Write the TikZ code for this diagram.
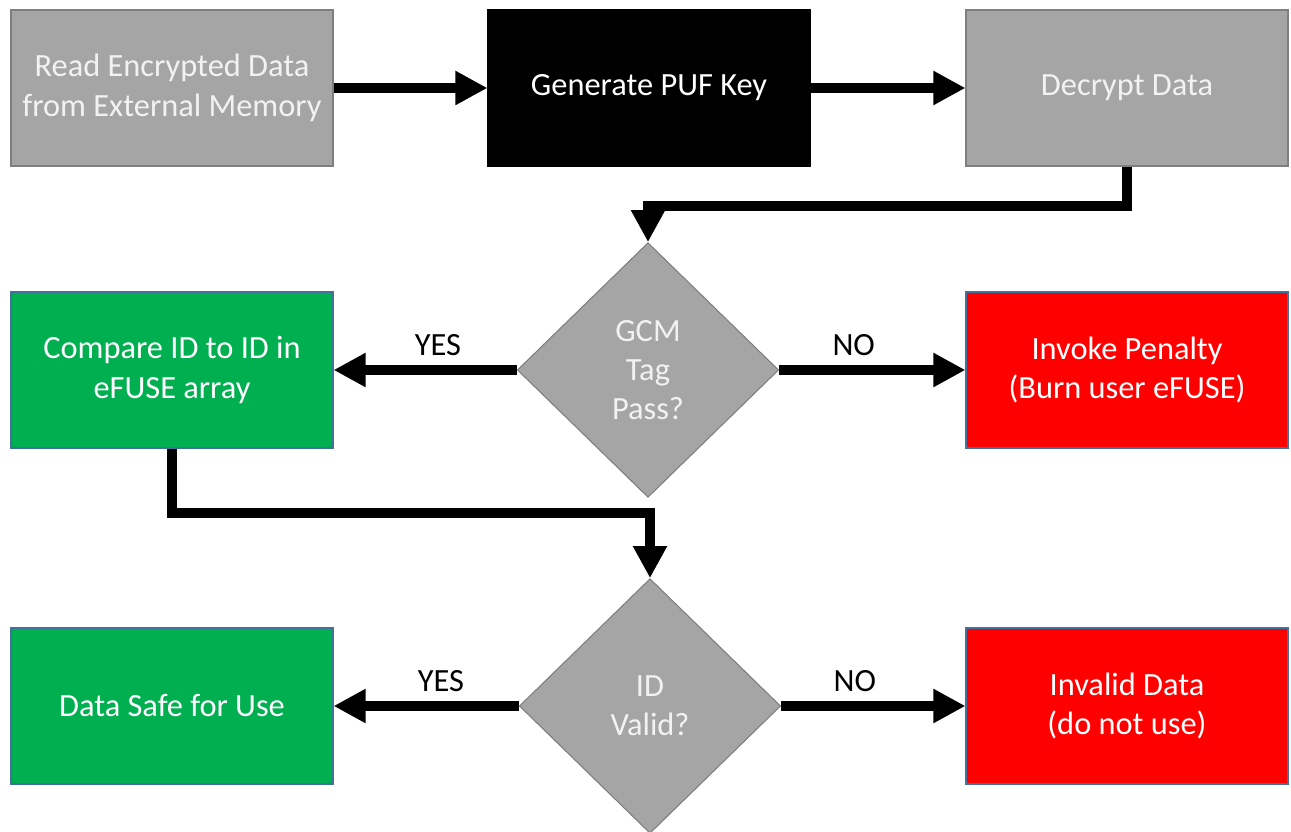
\documentclass[tikz,border=0pt]{standalone}
\usepackage{fontspec}
\setmainfont{Carlito}
\usepackage{tikz}
\usetikzlibrary{positioning,arrows.meta,shapes.geometric}
\definecolor{cGray}{HTML}{A5A5A5}
\definecolor{cGrayLine}{HTML}{7F7F7F}
\definecolor{cGreen}{HTML}{00B050}
\definecolor{cRed}{HTML}{FF0000}
\definecolor{cBlueLine}{HTML}{41719C}
\definecolor{cPale}{HTML}{F2F2F2}

\begin{document}
\begin{tikzpicture}[
  x=0.75pt,y=-0.75pt,
  font=\fontsize{24.3pt}{29.5pt}\selectfont,
  box/.style={draw,line width=0.8pt,minimum width=241.5pt,minimum height=117pt,inner sep=0pt,align=center},
  dec/.style={diamond,draw=cGrayLine,line width=0.8pt,fill=cGray,text=cPale,aspect=1,minimum width=196pt,minimum height=191pt,inner sep=0pt,align=center},
  lbl/.style={inner sep=0pt,text=black},
  ar/.style={-{Triangle[length=24pt,width=24pt]},line width=7.5pt,line join=miter}
]
\useasboundingbox (0,0) rectangle (1291,831);
% top row
\node[box,draw=cGrayLine,fill=cGray,text=cPale] (read) at (172,88) {Read Encrypted Data\\from External Memory};
\node[box,draw=black,fill=black,text=white] (puf) at (649,88) {Generate PUF Key};
\node[box,draw=cGrayLine,fill=cGray,text=cPale] (decr) at (1127,88) {Decrypt Data};
\draw[ar] (read) -- (puf); \draw[ar] (puf) -- (decr);
% tag check row
\node[dec] (gcm) at (648,370) {GCM\\Tag\\Pass?};
\node[box,draw=cBlueLine,fill=cGreen,text=white] (cmp) at (172,370) {Compare ID to ID in\\eFUSE array};
\node[box,draw=cBlueLine,fill=cRed,text=white] (pen) at (1127,370) {Invoke Penalty\\(Burn user eFUSE)};
\draw[ar] (decr.south) -- ++(0,39) -| (gcm.north);
\draw[ar] (gcm.west) -- node[lbl,pos=0.43,above=7pt] {YES} (cmp.east);
\draw[ar] (gcm.east) -- node[lbl,pos=0.40,above=7pt] {NO} (pen.west);
% id check row
\node[dec] (idv) at (650,706) {ID\\Valid?};
\node[box,draw=cBlueLine,fill=cGreen,text=white] (safe) at (172,706) {Data Safe for Use};
\node[box,draw=cBlueLine,fill=cRed,text=white] (inv) at (1127,706) {Invalid Data\\(do not use)};
\draw[ar] (cmp.south) -- ++(0,64) -| (idv.north);
\draw[ar] (idv.west) -- node[lbl,pos=0.42,above=7pt] {YES} (safe.east);
\draw[ar] (idv.east) -- node[lbl,pos=0.40,above=7pt] {NO} (inv.west);
\end{tikzpicture}
\end{document}
